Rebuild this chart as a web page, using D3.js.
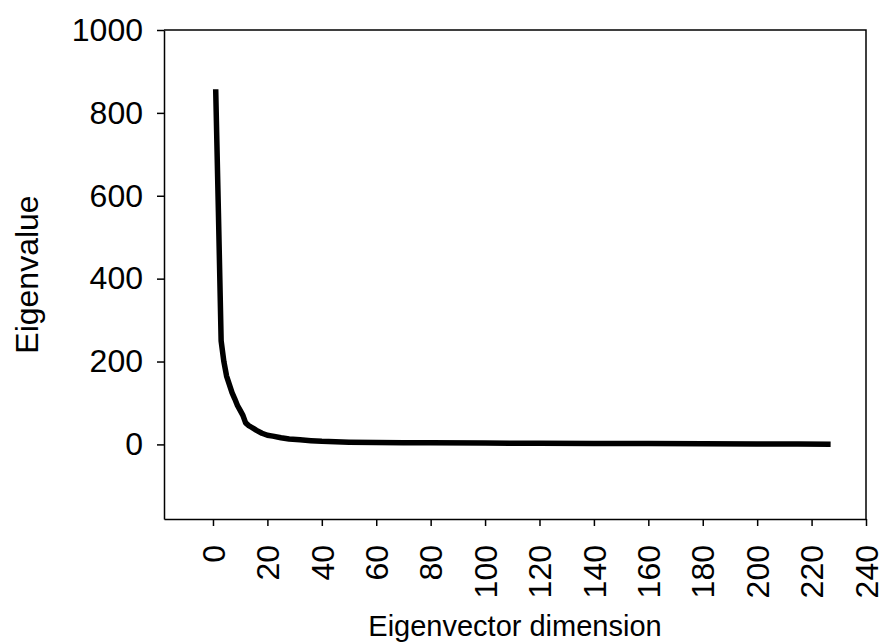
<!DOCTYPE html>
<html>
<head>
<meta charset="utf-8">
<script src="https://cdn.jsdelivr.net/npm/d3@7"></script>
<style>
  body { margin: 0; background: #fff; }
  svg text { font-family: "Liberation Sans", Arial, sans-serif; fill: #000; }
</style>
</head>
<body>
<div id="chart"></div>
<script>
// eigenvalue spectrum
var dims = [1, 2, 3, 4, 5, 6, 7, 8, 9, 10, 11, 12, 13, 14, 15, 16, 18, 20, 22, 25, 28, 32, 36, 40, 45, 50, 60, 70, 80, 100, 120, 140, 160, 180, 200, 215, 227];
var eigenvalues = [857, 560, 250, 200, 165, 145, 125, 110, 94, 82, 70, 52, 46, 42, 38, 34, 27, 22, 20, 16, 13, 11, 9, 7.5, 6.5, 5.5, 4.5, 4, 3.8, 3.2, 2.8, 2.4, 2, 1.6, 1.2, 0.8, 0.5];
var xTicks = [0, 20, 40, 60, 80, 100, 120, 140, 160, 180, 200, 220, 240];
var yTicks = [0, 200, 400, 600, 800, 1000];

var w = 882, h = 644;
var margin = {top: 30, right: 16, bottom: 125, left: 164};

var svg = d3.select("#chart").append("svg")
  .attr("width", w)
  .attr("height", h);

var x = d3.scaleLinear()
  .domain([-18, 240])
  .range([margin.left, w - margin.right]);

var y = d3.scaleLinear()
  .domain([-180, 1000])
  .range([h - margin.bottom, margin.top]);

//box: top and right border
svg.append("path")
  .attr("d", `M${x(-18)},${y(1000)} H${x(240)} V${y(-180)}`)
  .attr("fill", "none")
  .attr("stroke", "#000")
  .attr("stroke-width", 1.5);

//y axis
var yAxis = svg.append("g")
  .attr("transform", `translate(${margin.left},0)`)
  .call(d3.axisLeft(y).tickValues(yTicks).tickFormat(d3.format("d"))
    .tickSize(7).tickSizeOuter(0).tickPadding(14));

//x axis
var xAxis = svg.append("g")
  .attr("transform", `translate(0,${h - margin.bottom})`)
  .call(d3.axisBottom(x).tickValues(xTicks).tickFormat(d3.format("d"))
    .tickSize(7).tickSizeOuter(0));

svg.selectAll(".domain, .tick line")
  .attr("stroke", "#000")
  .attr("stroke-width", 1.5);

yAxis.selectAll("text")
  .style("font-size", "32px");

xAxis.selectAll("text")
  .style("font-size", "32px")
  .attr("text-anchor", "end")
  .attr("transform", "rotate(-90)")
  .attr("x", -26)
  .attr("y", 0)
  .attr("dy", "0.35em");

//axis titles
svg.append("text")
  .attr("x", (x.range()[0] + x.range()[1]) / 2)
  .attr("y", 636)
  .attr("text-anchor", "middle")
  .style("font-size", "29px")
  .text("Eigenvector dimension");

svg.append("text")
  .attr("transform", `translate(38,${(y.range()[0] + y.range()[1]) / 2}) rotate(-90)`)
  .attr("text-anchor", "middle")
  .style("font-size", "32px")
  .text("Eigenvalue");

//the curve
var line = d3.line()
  .x(function(d, i){ return x(dims[i]); })
  .y(function(d){ return y(d); });

svg.append("path")
  .datum(eigenvalues)
  .attr("d", line)
  .attr("fill", "none")
  .attr("stroke", "#000")
  .attr("stroke-width", 5.5)
  .attr("stroke-linejoin", "round");
</script>
</body>
</html>
